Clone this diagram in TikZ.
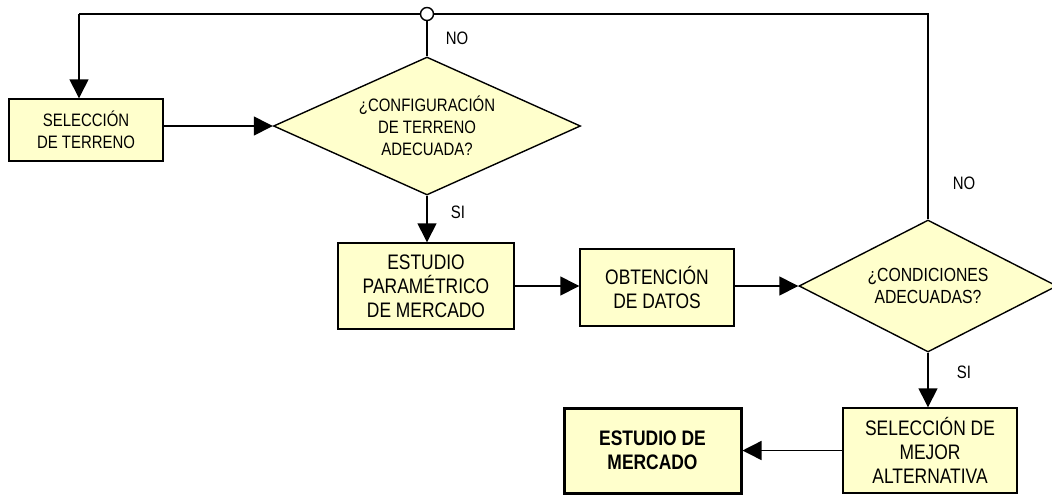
\documentclass[tikz,border=0pt]{standalone}
\usepackage{fontspec}
\setmainfont{Liberation Sans}[FakeStretch=0.83]
\usetikzlibrary{shapes.geometric,arrows.meta}
\definecolor{boxfill}{RGB}{255,255,204}
\tikzset{
  box/.style={draw=black, fill=boxfill, line width=1.4pt, rectangle, align=center, inner sep=0pt, font=\fontsize{21}{24}\selectfont},
  smallbox/.style={box, font=\fontsize{18}{22}\selectfont},
  decision/.style={draw=black, fill=boxfill, line width=1.4pt, diamond, align=center, inner sep=0pt, font=\fontsize{18}{22}\selectfont},
  lbl/.style={font=\fontsize{18}{22}\selectfont, inner sep=0pt},
  conn/.style={line width=1.4pt, -{Triangle[length=19pt,width=19pt]}},
  line/.style={line width=1.4pt}
}
\begin{document}
\begin{tikzpicture}[x=1pt,y=-1pt]
\useasboundingbox (0,0) rectangle (1052,496);
% nodes
\node[smallbox, minimum width=154pt, minimum height=62pt] (b1) at (86,130) {SELECCIÓN\\DE TERRENO};
\node[decision, aspect=2.22, minimum width=307pt, minimum height=138pt] (d1) at (427,126) {¿CONFIGURACIÓN\\DE TERRENO\\ADECUADA?};
\node[box, minimum width=176pt, minimum height=86pt] (b2) at (426,286) {ESTUDIO\\PARAMÉTRICO\\DE MERCADO};
\node[box, minimum width=154pt, minimum height=77pt] (b3) at (657,287.5) {OBTENCIÓN\\DE DATOS};
\node[decision, aspect=1.95, minimum width=258pt, minimum height=132pt, font=\fontsize{19}{22}\selectfont] (d2) at (928,286) {¿CONDICIONES\\ADECUADAS?};
\node[box, minimum width=174pt, minimum height=85pt] (b4) at (930,450.5) {SELECCIÓN DE\\MEJOR\\ALTERNATIVA};
\node[box, line width=3pt, minimum width=177pt, minimum height=85pt, font=\fontsize{21}{24}\selectfont\bfseries] (b5) at (652.5,450.5) {ESTUDIO DE\\MERCADO};
% labels
\node[lbl] (no1) at (457,38) {NO};
\node[lbl] (si1) at (458,212) {SI};
\node[lbl] (no2) at (964,183) {NO};
\node[lbl] (si2) at (964,372) {SI};
% connectors
\coordinate (tl) at (79,14);
\coordinate (tr) at (928,14);
\draw[line] (d2.north) -- (tr) -- (tl);
\draw[conn] (tl) -- (tl |- b1.north);
\node[draw=black, fill=white, circle, line width=1.4pt, minimum size=13pt, inner sep=0pt] (j) at (427,14) {};
\draw[line] (d1.north) -- (j.south);
\draw[conn] (d1.west -| b1.east) -- (d1.west);
\draw[conn] (d1.south) -- (d1.south |- b2.north);
\draw[conn] (b2.east) -- (b2.east -| b3.west);
\draw[conn] (d2.west -| b3.east) -- (d2.west);
\draw[conn] (d2.south) -- (d2.south |- b4.north);
\draw[conn] (b4.west) -- (b4.west -| b5.east);
\end{tikzpicture}
\end{document}
